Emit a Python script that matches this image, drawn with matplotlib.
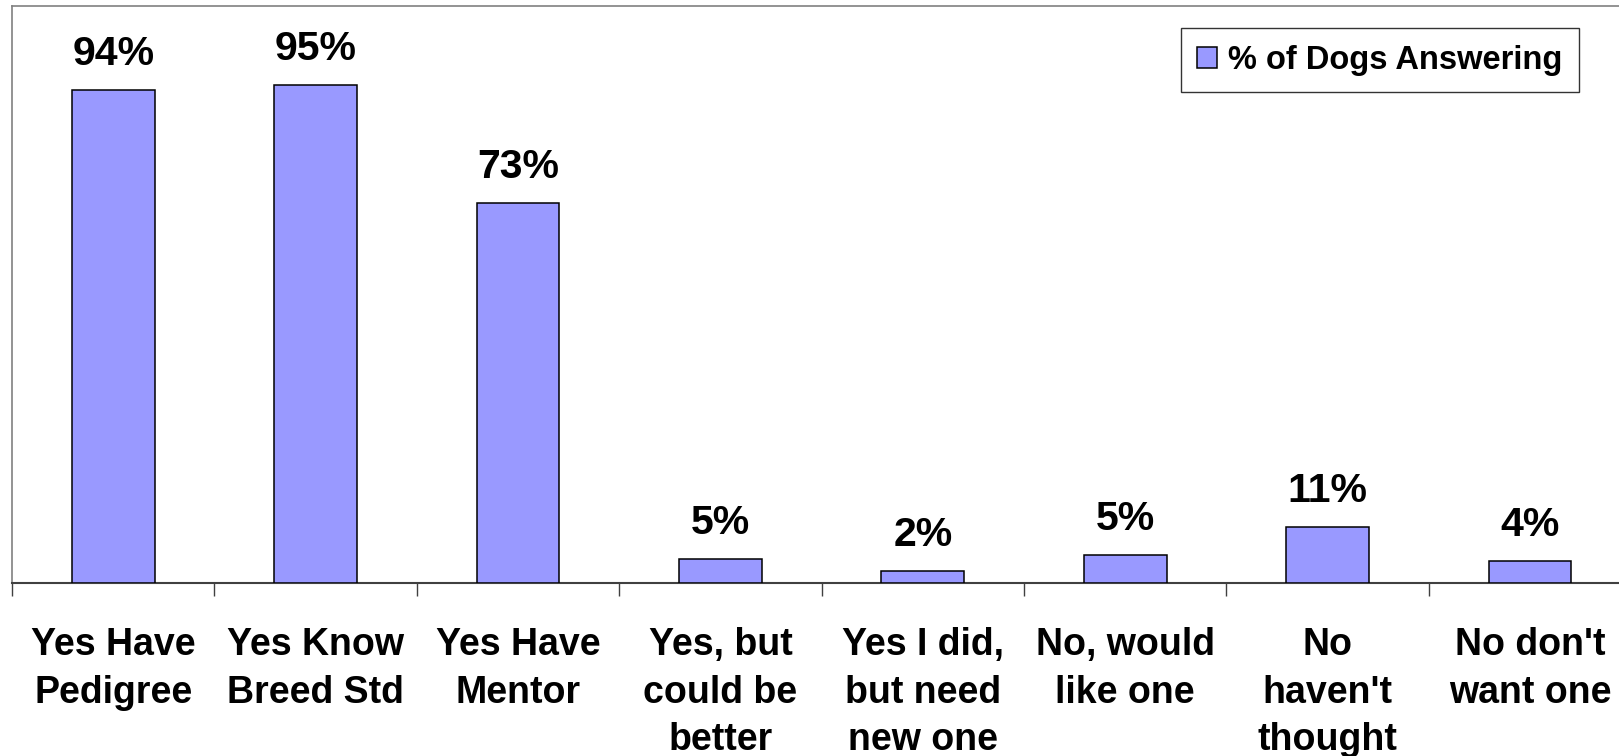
import matplotlib
matplotlib.use("Agg")
import matplotlib.pyplot as plt

plt.rcParams["font.family"] = ["Liberation Sans", "DejaVu Sans"]
plt.rcParams["font.weight"] = "bold"

categories = ["Yes Have\nPedigree", "Yes Know\nBreed Std", "Yes Have\nMentor",
              "Yes, but\ncould be\nbetter", "Yes I did,\nbut need\nnew one",
              "No, would\nlike one", "No\nhaven't\nthought", "No don't\nwant one"]
values = [94, 95, 72.5, 4.6, 2.3, 5.4, 10.8, 4.3]
value_labels = ["94%", "95%", "73%", "5%", "2%", "5%", "11%", "4%"]
series_name = "% of Dogs Answering"

fig = plt.figure(figsize=(16.19, 7.56), dpi=100)
ax = fig.add_axes([12 / 1619, 1 - 583.3 / 756, 1619.2 / 1619, 576.8 / 756])

x = list(range(len(categories)))
bars = ax.bar(x, values, width=0.41, color="#9999FF", edgecolor="black",
              linewidth=1.1, label=series_name, zorder=3)

for xi, v, lab in zip(x, values, value_labels):
    ax.annotate(lab, (xi, v), xytext=(0, 18), textcoords="offset points",
                ha="center", va="baseline", fontsize=29.5, fontweight="bold")

ax.set_xlim(-0.5, len(categories) - 0.5)
ax.set_ylim(0, 110)
ax.set_yticks([])

# boundary ticks between categories, labels at the centres
ax.set_xticks([i - 0.5 for i in range(len(categories) + 1)])
ax.set_xticklabels([])
ax.tick_params(axis="x", which="major", length=9.5, width=1, color="#404040", direction="out")
ax.set_xticks(x, minor=True)
ax.set_xticklabels(categories, minor=True, fontsize=27, fontweight="bold", linespacing=1.41)
ax.tick_params(axis="x", which="minor", length=0, pad=31.5)

for s in ("left", "top", "right"):
    ax.spines[s].set_color("#808080")
    ax.spines[s].set_linewidth(1.2)
ax.spines["bottom"].set_color("#404040")
ax.spines["bottom"].set_linewidth(1.5)

leg = ax.legend(loc="upper right", bbox_to_anchor=(1579 / 1619.2 - 0.0074, 1 - 22 / 576.8),
                fontsize=23.5, frameon=True, fancybox=False, handlelength=0.6,
                handleheight=0.6, handletextpad=0.35, borderpad=0.5, borderaxespad=0)
leg.get_frame().set_edgecolor("black")
leg.get_frame().set_linewidth(1.0)
for t in leg.get_texts():
    t.set_fontweight("bold")

fig.savefig("out.png", dpi=100)
